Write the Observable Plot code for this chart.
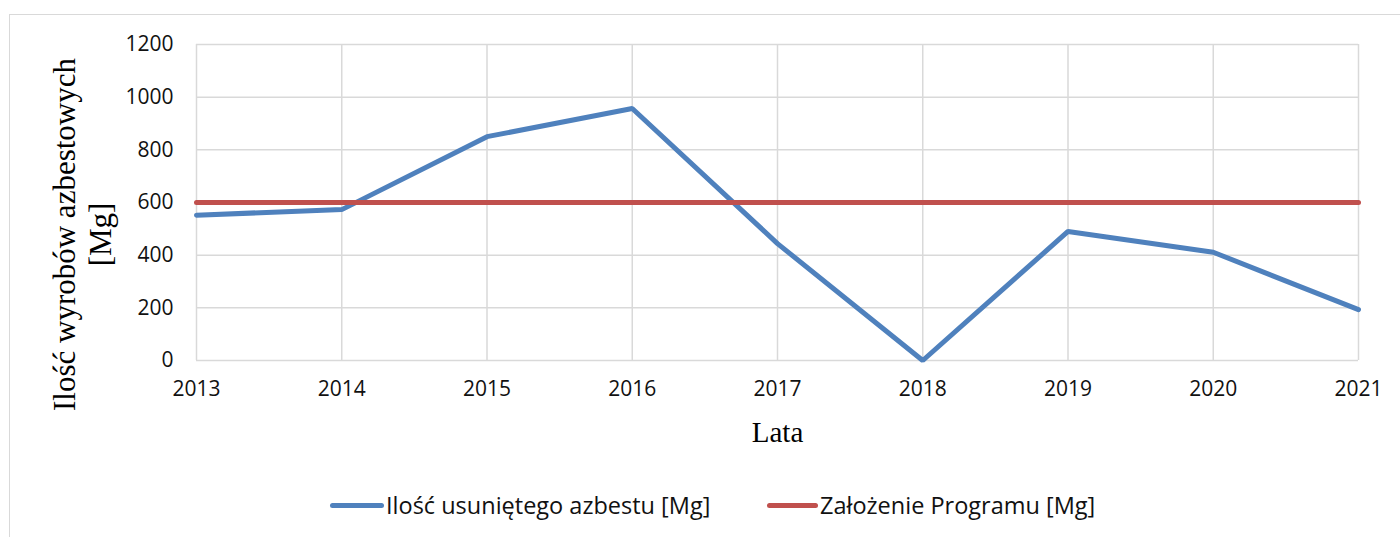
<!DOCTYPE html>
<html>
<head>
<meta charset="utf-8">
<script src="https://cdn.jsdelivr.net/npm/d3@7"></script>
<script src="https://cdn.jsdelivr.net/npm/@observablehq/plot@0.6"></script>
<style>
  html, body { margin: 0; padding: 0; background: #fff; }
  #wrap { position: relative; width: 1400px; height: 537px; overflow: hidden; }
  #frame { position: absolute; left: 9px; top: 14px; width: 2000px; height: 1000px;
           border-left: 1.5px solid #d9d9d9; border-top: 1.5px solid #d9d9d9; pointer-events: none; }
  #chart { position: absolute; left: 0; top: 0; }
  .leg { position: absolute; top: 490px; height: 30px; display: flex; align-items: center;
         font-family: "Open Sans", sans-serif; font-size: 23.5px; color: #111; white-space: nowrap; }
  .sw { display: inline-block; height: 5px; border-radius: 3px; margin-right: 2px; }
</style>
</head>
<body>
<div id="wrap">
  <div id="frame"></div>
  <div id="chart"></div>
  <div class="leg" style="left:330px"><span class="sw" style="width:54px;background:#4F81BD"></span><span id="l1"></span></div>
  <div class="leg" style="left:767px"><span class="sw" style="width:51px;background:#C0504D"></span><span id="l2"></span></div>
</div>
<script>
const years = [2013, 2014, 2015, 2016, 2017, 2018, 2019, 2020, 2021];
const removed = [552, 573, 850, 957, 444, 0, 490, 411, 193];
const target = [600, 600, 600, 600, 600, 600, 600, 600, 600];
const yTicks = [0, 200, 400, 600, 800, 1000, 1200];
const seriesNames = ["Ilość usuniętego azbestu [Mg]", "Założenie Programu [Mg]"];
const seriesColors = ["#4F81BD", "#C0504D"];
const yTitle = "Ilość wyrobów azbestowych\n[Mg]";
const xTitle = "Lata";

const dataRemoved = years.map((y, i) => ({year: y, value: removed[i]}));
const dataTarget = years.map((y, i) => ({year: y, value: target[i]}));

const chart = Plot.plot({
  width: 1400,
  height: 470,
  marginLeft: 196,
  marginRight: 42,
  marginTop: 44,
  marginBottom: 110,
  style: {fontFamily: "'Open Sans', sans-serif", fontSize: "21px", color: "#111", background: "transparent"},
  x: {domain: [2013, 2021], label: null},
  y: {domain: [0, 1200], label: null},
  marks: [
    Plot.gridX(years, {stroke: "#d9d9d9", strokeOpacity: 1, strokeWidth: 1.5}),
    Plot.gridY(yTicks, {stroke: "#d9d9d9", strokeOpacity: 1, strokeWidth: 1.5}),
    Plot.axisX({ticks: years, tickFormat: d => String(d), tickSize: 0, tickPadding: 21, label: null, fontSize: 21}),
    Plot.axisY({ticks: yTicks, tickFormat: d => String(d), tickSize: 0, tickPadding: 23, label: null, fontSize: 21}),
    Plot.line(dataRemoved, {x: "year", y: "value", stroke: seriesColors[0], strokeWidth: 5, strokeLinejoin: "miter", strokeLinecap: "round"}),
    Plot.line(dataTarget, {x: "year", y: "value", stroke: seriesColors[1], strokeWidth: 5, strokeLinecap: "round"}),
    Plot.text([yTitle], {frameAnchor: "left", text: d => d, rotate: -90, dx: -115, dy: 32,
      textAnchor: "middle", lineAnchor: "middle", lineHeight: 1.15,
      fontFamily: "'Liberation Serif', 'Times New Roman', serif", fontSize: 31, fill: "#000"}),
    Plot.text([xTitle], {frameAnchor: "bottom", text: d => d, dy: 72, lineAnchor: "middle",
      fontFamily: "'Liberation Serif', 'Times New Roman', serif", fontSize: 29, fill: "#000"})
  ]
});
document.getElementById("chart").appendChild(chart);
document.getElementById("l1").textContent = seriesNames[0];
document.getElementById("l2").textContent = seriesNames[1];
</script>
</body>
</html>
